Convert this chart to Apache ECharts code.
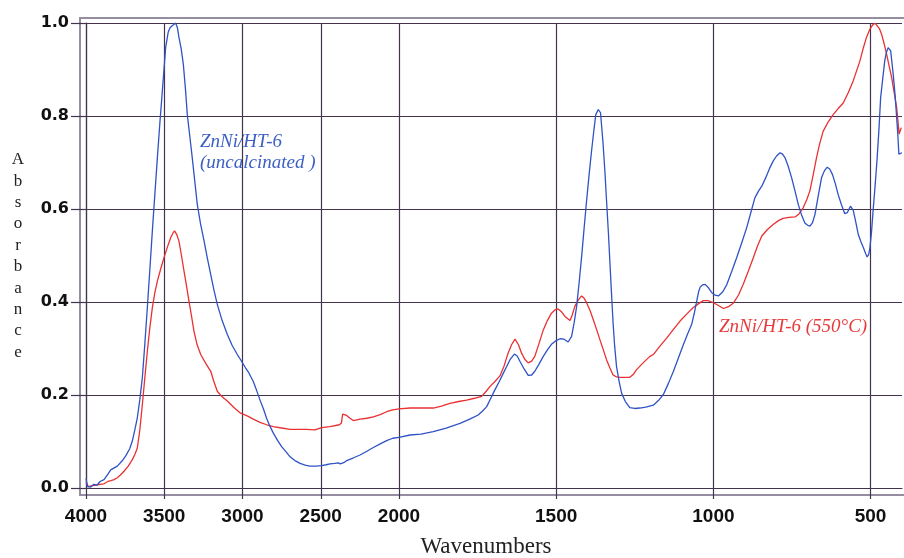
<!DOCTYPE html>
<html><head><meta charset="utf-8">
<script src="https://cdn.jsdelivr.net/npm/echarts@6/dist/echarts.min.js"></script>
<style>html,body{margin:0;padding:0;background:#fff}#c{width:904px;height:558px}</style>
</head><body><div id="c"></div>
<script>
// Wavenumber ticks (broken scale at 2000 cm-1)
const ticksHigh = [2000, 2500, 3000, 3500, 4000];
const ticksLow = [500, 1000, 1500];
const yTicks = [0, 0.2, 0.4, 0.6, 0.8, 1.0];

// ZnNi/HT-6 (uncalcinated) - blue
const blueWn = [4000,3990,3970,3950,3930,3910,3885,3860,3842,3800,3770,3746,3720,3704,3688,3672,3656,3640,3624,3608,3592,3576,3560,3544,3528,3512,3491,3475,3463,3449,3440,3427,3416,3406,3392,3378,3365,3353,3337,3321,3305,3289,3268,3246,3225,3203,3182,3161,3130,3097,3065,3033,3016,2980,2960,2931,2910,2888,2866,2846,2825,2803,2775,2750,2720,2696,2665,2632,2600,2569,2530,2494,2465,2441,2410,2388,2375,2366,2350,2334,2290,2249,2205,2164,2120,2079,2040,2000,1965,1930,1891,1850,1806,1775,1748,1735,1721,1708,1695,1681,1668,1657,1647,1633,1624,1615,1602,1589,1578,1568,1555,1541,1528,1515,1500,1488,1475,1462,1451,1443,1435,1427,1419,1411,1403,1395,1387,1380,1374,1366,1359,1351,1345,1340,1334,1329,1324,1319,1314,1308,1300,1292,1280,1266,1250,1234,1215,1191,1175,1159,1143,1127,1111,1095,1082,1069,1060,1053,1047,1042,1034,1026,1015,1005,995,984,970,957,942,926,910,894,881,868,857,846,833,820,810,799,788,780,772,762,751,740,730,720,709,700,693,685,677,666,656,647,638,630,621,612,603,592,582,574,564,555,547,539,531,523,516,511,506,502,497,492,485,479,473,468,461,455,450,444,436,428,422,417,413,410,405,400];
const blueAbs = [0.02,0.003,0.002,0.008,0.006,0.014,0.018,0.030,0.039,0.047,0.058,0.069,0.085,0.101,0.125,0.151,0.190,0.237,0.310,0.388,0.470,0.553,0.632,0.710,0.785,0.855,0.947,0.980,0.990,0.994,0.993,1.000,0.990,0.969,0.945,0.911,0.860,0.804,0.757,0.710,0.660,0.610,0.568,0.532,0.495,0.459,0.425,0.395,0.360,0.330,0.306,0.287,0.278,0.258,0.248,0.229,0.210,0.189,0.170,0.150,0.133,0.118,0.102,0.089,0.077,0.067,0.059,0.053,0.049,0.047,0.047,0.048,0.050,0.052,0.053,0.054,0.052,0.050,0.055,0.059,0.065,0.071,0.079,0.087,0.095,0.102,0.107,0.109,0.114,0.116,0.121,0.129,0.139,0.148,0.157,0.165,0.175,0.193,0.211,0.229,0.247,0.262,0.276,0.288,0.284,0.272,0.256,0.242,0.243,0.251,0.266,0.283,0.297,0.309,0.317,0.321,0.320,0.314,0.326,0.355,0.390,0.442,0.498,0.560,0.620,0.676,0.728,0.770,0.803,0.814,0.807,0.742,0.680,0.620,0.550,0.484,0.418,0.355,0.305,0.261,0.230,0.204,0.186,0.173,0.171,0.172,0.174,0.178,0.188,0.201,0.225,0.251,0.280,0.309,0.331,0.352,0.378,0.402,0.422,0.432,0.437,0.438,0.430,0.420,0.415,0.413,0.422,0.438,0.465,0.495,0.527,0.560,0.592,0.624,0.638,0.649,0.668,0.689,0.703,0.714,0.721,0.718,0.710,0.692,0.667,0.638,0.610,0.588,0.570,0.565,0.563,0.570,0.588,0.630,0.667,0.682,0.690,0.686,0.674,0.654,0.631,0.608,0.590,0.592,0.606,0.597,0.572,0.545,0.530,0.517,0.505,0.497,0.502,0.517,0.550,0.596,0.655,0.710,0.775,0.839,0.882,0.918,0.936,0.947,0.940,0.890,0.845,0.797,0.757,0.718,0.722,0.721];

// ZnNi/HT-6 (550°C) - red
const redWn = [4000,3985,3960,3935,3910,3885,3860,3840,3821,3800,3780,3757,3730,3704,3688,3672,3656,3640,3624,3608,3592,3576,3560,3544,3522,3502,3480,3459,3445,3434,3420,3406,3390,3374,3358,3342,3326,3310,3290,3267,3235,3203,3182,3161,3130,3097,3055,3012,2970,2931,2888,2845,2803,2750,2696,2640,2590,2537,2494,2441,2381,2368,2360,2348,2334,2313,2292,2249,2205,2164,2120,2079,2040,2000,1965,1930,1891,1865,1838,1810,1785,1760,1737,1724,1711,1695,1679,1666,1653,1642,1631,1620,1610,1600,1589,1578,1568,1555,1541,1528,1515,1504,1494,1483,1472,1456,1449,1441,1430,1419,1411,1403,1392,1382,1371,1361,1350,1340,1329,1319,1308,1297,1280,1266,1255,1245,1225,1202,1191,1170,1148,1127,1106,1085,1064,1048,1032,1018,1005,985,968,952,936,920,905,889,873,860,846,828,809,793,778,760,740,727,714,703,693,683,672,662,651,635,619,603,587,571,555,545,534,524,513,502,492,485,479,472,465,457,449,441,433,425,417,413,409,405,402];
const redAbs = [0.012,0.003,0.005,0.006,0.008,0.009,0.014,0.016,0.018,0.022,0.028,0.036,0.047,0.061,0.072,0.086,0.125,0.179,0.237,0.294,0.345,0.388,0.420,0.445,0.472,0.495,0.518,0.538,0.548,0.553,0.545,0.531,0.500,0.467,0.435,0.402,0.370,0.337,0.308,0.287,0.268,0.251,0.228,0.208,0.196,0.187,0.173,0.161,0.155,0.148,0.141,0.136,0.132,0.129,0.126,0.126,0.126,0.125,0.130,0.132,0.136,0.140,0.159,0.160,0.156,0.150,0.145,0.148,0.150,0.153,0.158,0.164,0.168,0.170,0.172,0.172,0.172,0.176,0.182,0.186,0.189,0.193,0.197,0.207,0.218,0.229,0.241,0.262,0.290,0.308,0.320,0.308,0.290,0.277,0.269,0.273,0.283,0.310,0.340,0.360,0.376,0.383,0.385,0.379,0.369,0.360,0.372,0.390,0.404,0.413,0.408,0.398,0.381,0.362,0.340,0.319,0.297,0.276,0.258,0.243,0.239,0.238,0.238,0.238,0.244,0.254,0.268,0.283,0.287,0.305,0.323,0.341,0.359,0.374,0.388,0.396,0.403,0.403,0.400,0.393,0.386,0.390,0.398,0.415,0.438,0.466,0.495,0.520,0.542,0.556,0.567,0.575,0.580,0.582,0.583,0.590,0.603,0.620,0.639,0.672,0.710,0.740,0.767,0.787,0.803,0.816,0.828,0.850,0.876,0.896,0.918,0.944,0.969,0.987,0.997,0.999,0.996,0.988,0.976,0.956,0.933,0.908,0.883,0.851,0.818,0.790,0.761,0.770,0.775];

const BLUE = '#2f52c6', RED = '#ea3030', GRID = '#43334f', FRAME = '#958ea0';

function pairs(wn, ab, lo, hi) {
  const out = [];
  for (let i = 0; i < wn.length; i++) if (wn[i] >= lo && wn[i] <= hi) out.push([wn[i], ab[i]]);
  return out;
}

const xCommon = {
  type: 'value', inverse: true,
  axisLine: {show: true, lineStyle: {color: GRID, width: 1.2}},
  axisTick: {show: true, length: 11, lineStyle: {color: GRID, width: 1.2}},
  splitLine: {show: true, lineStyle: {color: GRID, width: 1.2}},
  axisLabel: {color: '#111', fontFamily: 'Liberation Sans, Arial, sans-serif', fontWeight: 'bold', fontSize: 19, margin: 19,
    formatter: v => String(Math.round(v))}
};

const chart = echarts.init(document.getElementById('c'), null, {renderer: 'canvas'});
chart.setOption({
  animation: false,
  backgroundColor: '#fff',
  grid: [
    {left: 86, top: 23, width: 313, bottom: 70},
    {left: 399, top: 23, width: 503, bottom: 70}
  ],
  xAxis: [
    Object.assign({}, xCommon, {gridIndex: 0, min: 2000, max: 4000, interval: 500,
      axisTick: Object.assign({}, xCommon.axisTick, {customValues: ticksHigh}),
      axisLabel: Object.assign({}, xCommon.axisLabel, {customValues: ticksHigh})}),
    Object.assign({}, xCommon, {gridIndex: 1, min: 400, max: 2000,
      axisTick: Object.assign({}, xCommon.axisTick, {customValues: ticksLow}),
      axisLabel: Object.assign({}, xCommon.axisLabel, {customValues: ticksLow})})
  ],
  yAxis: [
    {type: 'value', gridIndex: 0, min: 0, max: 1, interval: 0.2,
      axisLine: {show: true, lineStyle: {color: GRID, width: 1.2}},
      axisTick: {show: true, length: 15, lineStyle: {color: GRID, width: 1.2}},
      splitLine: {show: true, lineStyle: {color: GRID, width: 1.2}},
      axisLabel: {color: '#111', fontFamily: 'DejaVu Sans, sans-serif', fontWeight: 'bold', fontSize: 16, margin: 17,
        formatter: v => v.toFixed(1)}},
    {type: 'value', gridIndex: 1, min: 0, max: 1, interval: 0.2,
      axisLine: {show: false}, axisTick: {show: false}, axisLabel: {show: false},
      splitLine: {show: true, lineStyle: {color: GRID, width: 1.2}}}
  ],
  graphic: [
    {type: 'rect', z: 0, silent: true, shape: {x: 80, y: 18, width: 840, height: 477},
      style: {fill: 'none', stroke: FRAME, lineWidth: 2}},
    {type: 'text', x: 486, y: 547, style: {text: 'Wavenumbers', font: '23px "Liberation Serif", "Times New Roman", serif', fill: '#222', textAlign: 'center', textVerticalAlign: 'middle'}},
    {type: 'text', x: 18, y: 256, style: {text: 'Absorbance'.split('').join('\n'), font: '17px "Liberation Serif", "Times New Roman", serif', fill: '#222', textAlign: 'center', textVerticalAlign: 'middle', lineHeight: 21.4}},
    {type: 'text', x: 200, y: 131, style: {text: 'ZnNi/HT-6\n(uncalcinated )', font: 'italic 19px "Liberation Serif", "Times New Roman", serif', fill: '#3d5fc4', textAlign: 'left', textVerticalAlign: 'top', lineHeight: 21}},
    {type: 'text', x: 719, y: 316, style: {text: 'ZnNi/HT-6 (550°C)', font: 'italic 19px "Liberation Serif", "Times New Roman", serif', fill: '#e83a3a', textAlign: 'left', textVerticalAlign: 'top', lineHeight: 21}}
  ],
  series: [
    {name: 'ZnNi/HT-6 (550°C)', type: 'line', xAxisIndex: 0, yAxisIndex: 0, showSymbol: false, symbol: 'none', lineStyle: {color: RED, width: 1.3}, data: pairs(redWn, redAbs, 2000, 4000)},
    {name: 'ZnNi/HT-6 (550°C)', type: 'line', xAxisIndex: 1, yAxisIndex: 1, showSymbol: false, symbol: 'none', lineStyle: {color: RED, width: 1.3}, data: pairs(redWn, redAbs, 0, 2000)},
    {name: 'ZnNi/HT-6 (uncalcinated)', type: 'line', xAxisIndex: 0, yAxisIndex: 0, showSymbol: false, symbol: 'none', lineStyle: {color: BLUE, width: 1.3}, data: pairs(blueWn, blueAbs, 2000, 4000)},
    {name: 'ZnNi/HT-6 (uncalcinated)', type: 'line', xAxisIndex: 1, yAxisIndex: 1, showSymbol: false, symbol: 'none', lineStyle: {color: BLUE, width: 1.3}, data: pairs(blueWn, blueAbs, 0, 2000)}
  ]
});
</script></body></html>
